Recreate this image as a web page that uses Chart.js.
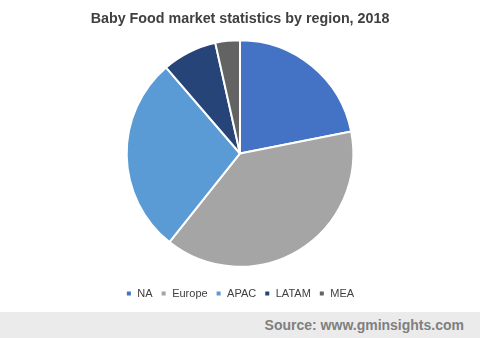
<!DOCTYPE html>
<html>
<head>
<meta charset="utf-8">
<script src="https://cdn.jsdelivr.net/npm/chart.js@4"></script>
<style>
  html, body { margin: 0; padding: 0; background: #ffffff; }
  #wrap { width: 480px; height: 338px; position: relative; }
  #source {
    position: absolute; left: 0; top: 312px;
    width: 480px; height: 26px; background: #ebebeb;
    font: bold 14px "Liberation Sans", Arial, sans-serif; color: #7f7f7f;
    text-align: right; box-sizing: border-box; padding-right: 16px; line-height: 26px;
  }
</style>
</head>
<body>
<div id="wrap">
  <canvas id="chart" width="480" height="338"></canvas>
  <div id="source">Source: www.gminsights.com</div>
</div>
<script>
// categories and shares (%)
const regions = ["NA", "Europe", "APAC", "LATAM", "MEA"];
const shares = [21.9, 38.8, 28.0, 7.8, 3.5];
const colores = ["#4472C4", "#A5A5A5", "#5B9BD5", "#264478", "#636363"];

const ctx = document.getElementById("chart").getContext("2d");

const chart = new Chart(ctx, {
  type: "pie",
  data: {
    labels: regions,
    datasets: [{
      data: shares,
      backgroundColor: colores,
      borderColor: "#ffffff",
      borderWidth: 2
    }]
  },
  options: {
    responsive: false,
    animation: false,
    layout: { padding: { top: 0, bottom: 29 } },
    plugins: {
      title: {
        display: true,
        text: "Baby Food market statistics by region, 2018",
        color: "#404040",
        font: { family: "'Liberation Sans', Arial, sans-serif", size: 14.3, weight: "bold" },
        padding: { top: 10, bottom: 12 }
      },
      legend: {
        position: "bottom",
        // empty title only used as a spacer between pie and legend
        title: { display: true, text: "", font: { size: 1 }, padding: { top: 0, bottom: 11 } },
        labels: {
          boxWidth: 6,
          boxHeight: 6,
          padding: 8,
          color: "#404040",
          font: { family: "'Liberation Sans', Arial, sans-serif", size: 11 }
        }
      },
      tooltip: { enabled: false }
    }
  }
});
</script>
</body>
</html>
